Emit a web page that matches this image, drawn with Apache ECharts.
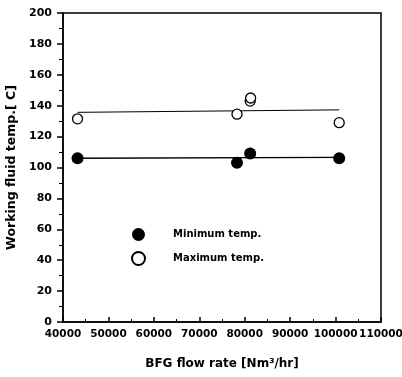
<!DOCTYPE html>
<html>
<head>
<meta charset="utf-8">
<script src="https://cdn.jsdelivr.net/npm/echarts@6/dist/echarts.min.js"></script>
<style>
  html, body { margin: 0; padding: 0; background: #fff; }
  #chart { width: 402px; height: 377px; }
</style>
</head>
<body>
<div id="chart"></div>
<script>
// values
var flowMin = [43200, 78300, 81200, 100800];
var tempMin = [106, 103, 109, 106];
var flowMax = [43200, 78300, 81200, 81300, 100800];
var tempMax = [131.5, 134.5, 143, 145, 129];
var fitMinX = [43200, 100800];
var fitMinY = [106, 106.5];
var fitMaxX = [43200, 100800];
var fitMaxY = [135.7, 137.3];

function pairs(xs, ys) {
    var out = [];
    for (var i = 0; i < xs.length; i++) out.push([xs[i], ys[i]]);
    return out;
}

var font = 'DejaVu Sans';
var chart = echarts.init(document.getElementById('chart'));

chart.setOption({
    animation: false,
    grid: {
        left: 63, right: 21, top: 13, bottom: 55,
        outerBoundsMode: 'none',
        show: true, borderColor: '#000', borderWidth: 1.5, backgroundColor: 'transparent'
    },
    legend: {
        orient: 'vertical',
        left: 126, top: 223,
        itemGap: 10,
        itemWidth: 13, itemHeight: 13,
        data: ['Minimum temp.', 'Maximum temp.'],
        textStyle: { fontFamily: font, fontWeight: 'bold', fontSize: 10, color: '#000', padding: [0, 0, 0, 23] }
    },
    xAxis: {
        type: 'value',
        min: 40000, max: 110000, interval: 10000,
        name: 'BFG flow rate [Nm\u00b3/hr]',
        nameLocation: 'middle', nameGap: 36,
        nameTextStyle: { fontFamily: font, fontWeight: 'bold', fontSize: 12, color: '#000' },
        axisLine: { lineStyle: { color: '#000', width: 1.5 } },
        axisTick: { inside: true, length: 5, lineStyle: { color: '#000', width: 1.5 } },
        minorTick: { show: true, splitNumber: 2, length: 3, lineStyle: { color: '#000' } },
        splitLine: { show: false },
        axisLabel: {
            fontFamily: font, fontWeight: 'bold', fontSize: 10.5, color: '#000', margin: 7,
            formatter: function (v) { return String(v); }
        }
    },
    yAxis: {
        type: 'value',
        min: 0, max: 200, interval: 20,
        name: 'Working fluid temp.[ C]',
        nameLocation: 'middle', nameGap: 43,
        nameTextStyle: { fontFamily: font, fontWeight: 'bold', fontSize: 12.5, color: '#000' },
        axisLine: { lineStyle: { color: '#000', width: 1.5 } },
        axisTick: { length: 6, lineStyle: { color: '#000', width: 1.5 } },
        minorTick: { show: true, splitNumber: 2, length: 4, lineStyle: { color: '#000' } },
        splitLine: { show: false },
        axisLabel: { fontFamily: font, fontWeight: 'bold', fontSize: 11, color: '#000', margin: 11 }
    },
    series: [
        {
            name: 'fitMin', type: 'line', data: pairs(fitMinX, fitMinY),
            symbol: 'none', lineStyle: { color: '#000', width: 1.3 }, z: 1
        },
        {
            name: 'fitMax', type: 'line', data: pairs(fitMaxX, fitMaxY),
            symbol: 'none', lineStyle: { color: '#000', width: 1 }, z: 1
        },
        {
            name: 'Minimum temp.', type: 'scatter', data: pairs(flowMin, tempMin),
            symbol: 'circle', symbolSize: 12,
            itemStyle: { color: '#000', opacity: 1 }, z: 3
        },
        {
            name: 'Maximum temp.', type: 'scatter', data: pairs(flowMax, tempMax),
            symbol: 'circle', symbolSize: 10,
            itemStyle: { color: '#fff', borderColor: '#000', borderWidth: 1.3, opacity: 1 }, z: 3
        }
    ]
});
</script>
</body>
</html>
